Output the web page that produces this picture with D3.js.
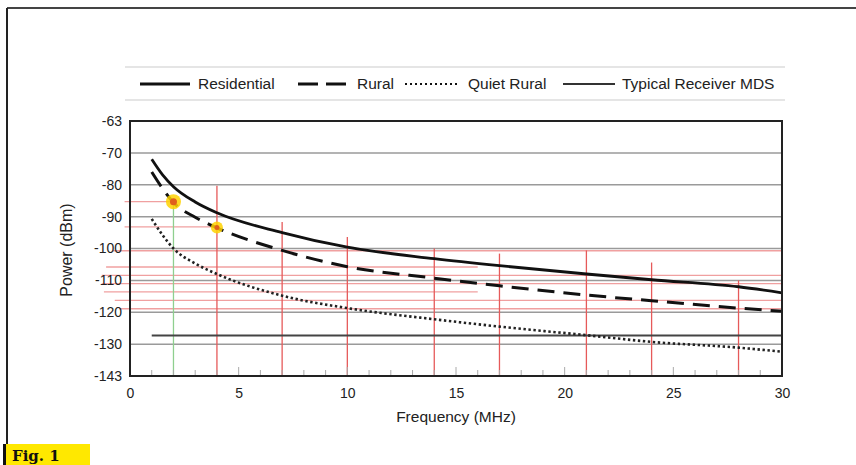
<!DOCTYPE html>
<html>
<head>
<meta charset="utf-8">
<script src="https://cdn.jsdelivr.net/npm/d3@7"></script>
<style>
  body { margin: 0; background: #fff; }
  text { font-family: "Liberation Sans", Arial, sans-serif; fill: #222; }
</style>
</head>
<body>
<script>
// values (MHz, dBm)
var freq        = [1, 1.5, 2, 3, 4, 7, 10, 14, 17, 21, 24, 28, 30];
var residential = [-72, -76.9, -80.6, -85.4, -88.8, -95, -99.6, -103.2, -105.4, -108, -109.8, -112, -113.9];
var rural       = [-76, -81.2, -85.6, -90.2, -93.5, -100.6, -105.7, -109.3, -111.7, -114.6, -116.4, -118.7, -119.7];
var quietRural  = [-90.7, -95.8, -100, -104.7, -108, -114.8, -118.7, -122.2, -124.5, -127.2, -129.3, -131.1, -132.4];
var mdsLevel = -127.3;
var mdsRange = [1, 30];

// band markers
var bandFreqs = [4, 7, 10, 14, 17, 21, 24, 28];
var bandTops  = [-80.3, -91.7, -96.4, -100, -101.6, -100.6, -104.4, -110];
var greenFreq = 2, greenTop = -85.5;
var hLevels = [-85.3, -93.2, -100.7, -105.8, -108.4, -111, -113.6, -116.3, -118.9];
var hStarts = [-0.25, -0.25, -0.8, -1.1, -1.3, -1.3, -1.2, -0.7, -0.5];
var hEnds   = [2, 4, 30, 16, 30, 30, 16, 30, 30];
var markFreqs = [2, 4];
var markVals  = [-85.3, -93.4];

var xTicks = [0, 5, 10, 15, 20, 25, 30];
var yTicks = [-140, -130, -120, -110, -100, -90, -80, -70, -60];
var yLabels = ['-143', '-130', '-120', '-110', '-100', '-90', '-80', '-70', '-63'];
var gridVals = [-70, -80, -90, -100, -110, -120, -130];

var W = 856, H = 465;
var svg = d3.select('body').append('svg').attr('width', W).attr('height', H);

var x = d3.scaleLinear().domain([0, 30]).range([130, 782]);
var y = d3.scaleLinear().domain([-140, -60]).range([376, 121]);

// outer frame
svg.append('line').attr('x1', 7).attr('x2', W).attr('y1', 8).attr('y2', 8)
   .attr('stroke', '#444').attr('stroke-width', 2);
svg.append('line').attr('x1', 7).attr('x2', 7).attr('y1', 8).attr('y2', 445)
   .attr('stroke', '#222').attr('stroke-width', 2);

// Fig. 1 tag
svg.append('rect').attr('x', 3).attr('y', 444).attr('width', 87).attr('height', 21).attr('fill', '#ffe800');
svg.append('rect').attr('x', 3).attr('y', 444).attr('width', 3).attr('height', 21).attr('fill', '#111');
svg.append('text').attr('x', 12).attr('y', 461)
   .style('font-family', '"DejaVu Serif", serif').style('font-weight', 'bold')
   .style('font-size', '15px').style('fill', '#111').text('Fig. 1');

// legend
var lg = svg.append('g');
lg.append('line').attr('x1', 125).attr('x2', 785).attr('y1', 67).attr('y2', 67).attr('stroke', '#ddd').attr('stroke-width', 1.5);
lg.append('line').attr('x1', 125).attr('x2', 785).attr('y1', 100).attr('y2', 100).attr('stroke', '#ddd').attr('stroke-width', 1.5);
var legendItems = [
  {x1: 140, x2: 190, tx: 198, label: 'Residential', w: 3, dash: null, col: '#111'},
  {x1: 298, x2: 348, tx: 357, label: 'Rural', w: 3, dash: '20,8', col: '#111'},
  {x1: 405, x2: 460, tx: 468, label: 'Quiet Rural', w: 2.2, dash: '2,3', col: '#111'},
  {x1: 563, x2: 615, tx: 622, label: 'Typical Receiver MDS', w: 1.8, dash: null, col: '#333'}
];
legendItems.forEach(function(d) {
  lg.append('line').attr('x1', d.x1).attr('x2', d.x2).attr('y1', 84).attr('y2', 84)
    .attr('stroke', d.col).attr('stroke-width', d.w).attr('stroke-dasharray', d.dash);
  lg.append('text').attr('x', d.tx).attr('y', 89).style('font-size', '15.5px').text(d.label);
});

// gridlines
svg.append('g').selectAll('line').data(gridVals).enter().append('line')
   .attr('x1', x(0)).attr('x2', x(30))
   .attr('y1', function(d) { return y(d); }).attr('y2', function(d) { return y(d); })
   .attr('stroke', '#9a9a9a').attr('stroke-width', 1.5);

// red horizontal band lines
svg.append('g').selectAll('line').data(hLevels).enter().append('line')
   .attr('x1', function(d, i) { return x(hStarts[i]); })
   .attr('x2', function(d, i) { return x(hEnds[i]); })
   .attr('y1', function(d) { return y(d); }).attr('y2', function(d) { return y(d); })
   .attr('stroke', '#f0a0a0').attr('stroke-width', 1.3);

// red vertical band lines
svg.append('g').selectAll('line').data(bandFreqs).enter().append('line')
   .attr('x1', function(d) { return x(d); }).attr('x2', function(d) { return x(d); })
   .attr('y1', function(d, i) { return y(bandTops[i]); }).attr('y2', y(-140))
   .attr('stroke', '#e65a5a').attr('stroke-width', 1.3);

svg.append('line').attr('x1', x(greenFreq)).attr('x2', x(greenFreq))
   .attr('y1', y(greenTop)).attr('y2', y(-140))
   .attr('stroke', '#8fcf8f').attr('stroke-width', 1.3);

// minor ticks along the bottom
var minor = d3.range(1, 30);
svg.append('g').selectAll('line').data(minor).enter().append('line')
   .attr('x1', function(d) { return x(d); }).attr('x2', function(d) { return x(d); })
   .attr('y1', y(-140)).attr('y2', function(d) { return d % 5 === 0 ? y(-140) - 9 : y(-140) - 6; })
   .attr('stroke', '#aaa').attr('stroke-width', 1);

// MDS line
svg.append('line').attr('x1', x(mdsRange[0])).attr('x2', x(mdsRange[1]))
   .attr('y1', y(mdsLevel)).attr('y2', y(mdsLevel))
   .attr('stroke', '#444').attr('stroke-width', 2);

// noise curves
function series(vals) { return freq.map(function(f, i) { return [f, vals[i]]; }); }
var line = d3.line().x(function(d) { return x(d[0]); }).y(function(d) { return y(d[1]); })
   .curve(d3.curveMonotoneX);

svg.append('path').attr('d', line(series(quietRural))).attr('fill', 'none')
   .attr('stroke', '#222').attr('stroke-width', 2.6).attr('stroke-dasharray', '2.4,2.6');
svg.append('path').attr('d', line(series(rural))).attr('fill', 'none')
   .attr('stroke', '#111').attr('stroke-width', 3).attr('stroke-dasharray', '17,9');
svg.append('path').attr('d', line(series(residential))).attr('fill', 'none')
   .attr('stroke', '#111').attr('stroke-width', 2.8);

// highlighted points
var marks = svg.append('g').selectAll('g').data(markFreqs).enter().append('g');
marks.append('circle').attr('cx', function(d) { return x(d); })
   .attr('cy', function(d, i) { return y(markVals[i]); })
   .attr('r', function(d, i) { return i === 0 ? 7.5 : 6; })
   .attr('fill', '#ffd200').attr('opacity', 0.85);
marks.append('circle').attr('cx', function(d) { return x(d); })
   .attr('cy', function(d, i) { return y(markVals[i]); })
   .attr('r', function(d, i) { return i === 0 ? 3.5 : 2.5; })
   .attr('fill', '#e0601c');

// plot frame
svg.append('rect').attr('x', x(0)).attr('y', y(-60)).attr('width', x(30) - x(0)).attr('height', y(-140) - y(-60))
   .attr('fill', 'none').attr('stroke', '#222').attr('stroke-width', 2);

// axes labels
svg.append('g').attr('transform', 'translate(0,' + y(-140) + ')')
   .call(d3.axisBottom(x).tickValues(xTicks).tickSize(0).tickPadding(12))
   .call(function(g) { g.select('.domain').remove(); })
   .selectAll('text').style('font-size', '14px').style('fill', '#222')
   .style('font-family', '"Liberation Sans", Arial, sans-serif');

svg.append('g').attr('transform', 'translate(' + x(0) + ',0)')
   .call(d3.axisLeft(y).tickValues(yTicks).tickSize(0).tickPadding(8)
         .tickFormat(function(d, i) { return yLabels[i]; }))
   .call(function(g) { g.select('.domain').remove(); })
   .selectAll('text').style('font-size', '14px').style('fill', '#222')
   .style('font-family', '"Liberation Sans", Arial, sans-serif');

svg.append('text').attr('x', 456).attr('y', 422).attr('text-anchor', 'middle')
   .style('font-size', '15.5px').text('Frequency (MHz)');
svg.append('text').attr('transform', 'translate(72,250) rotate(-90)').attr('text-anchor', 'middle')
   .style('font-size', '16px').text('Power (dBm)');
</script>
</body>
</html>
